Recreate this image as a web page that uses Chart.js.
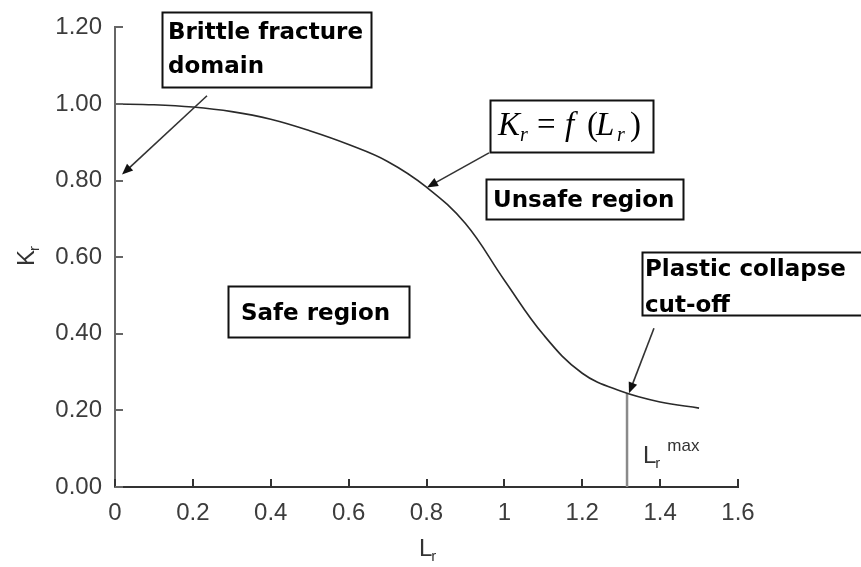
<!DOCTYPE html>
<html>
<head>
<meta charset="utf-8">
<script src="https://cdn.jsdelivr.net/npm/chart.js@4.4.1/dist/chart.umd.min.js"></script>
<style>
  html, body { margin: 0; padding: 0; background: #ffffff; }
  #wrap { width: 861px; height: 567px; }
</style>
</head>
<body>
<div id="wrap"><canvas id="c" width="861" height="567"></canvas></div>
<script>
// ---- Data ----
const LR = [0.0, 0.1, 0.2, 0.3, 0.4, 0.5, 0.6, 0.7, 0.8, 0.9, 1.0, 1.1, 1.2, 1.3, 1.4, 1.5];
const KR = [1.000, 0.998, 0.992, 0.980, 0.960, 0.930, 0.894, 0.850, 0.783, 0.688, 0.540, 0.398, 0.297, 0.250, 0.222, 0.206];
const CUTOFF_LR = [1.315, 1.315];
const CUTOFF_KR = [0.0, 0.245];
const X_TICKS = [0, 0.2, 0.4, 0.6, 0.8, 1.0, 1.2, 1.4, 1.6];
const Y_TICKS = [0, 0.2, 0.4, 0.6, 0.8, 1.0, 1.2];
const X_TITLE = ['L', 'r'];
const Y_TITLE = ['K', 'r'];
const LABEL_BRITTLE = ['Brittle fracture', 'domain'];
const LABEL_UNSAFE = ['Unsafe region'];
const LABEL_SAFE = ['Safe region'];
const LABEL_PLASTIC = ['Plastic collapse', 'cut-off'];
const LABEL_LRMAX = ['L', 'r', 'max'];

const curvePts = LR.map((v, i) => ({ x: v, y: KR[i] }));
const cutPts = CUTOFF_LR.map((v, i) => ({ x: v, y: CUTOFF_KR[i] }));

const annot = {
  id: 'annot',
  afterDraw(chart) {
    const { ctx, scales: { x, y } } = chart;
    const X = v => x.getPixelForValue(v);
    const Y = v => y.getPixelForValue(v);
    ctx.save();

    // inward tick marks
    ctx.lineWidth = 2;
    ctx.strokeStyle = '#333';
    X_TICKS.forEach(v => {
      const px = Math.round(X(v));
      ctx.beginPath(); ctx.moveTo(px, Y(0)); ctx.lineTo(px, Y(0) - 8); ctx.stroke();
    });
    ctx.strokeStyle = '#666';
    Y_TICKS.forEach(v => {
      const py = Math.round(Y(v));
      ctx.beginPath(); ctx.moveTo(X(0), py); ctx.lineTo(X(0) + 8, py); ctx.stroke();
    });

    // axis titles with subscripts
    ctx.fillStyle = '#333';
    ctx.textBaseline = 'alphabetic';
    ctx.textAlign = 'left';
    ctx.font = '24px "Liberation Sans", Arial, sans-serif';
    ctx.fillText(X_TITLE[0], 419, 556);
    let w = ctx.measureText(X_TITLE[0]).width;
    ctx.font = '15px "Liberation Sans", Arial, sans-serif';
    ctx.fillText(X_TITLE[1], 419 + w - 1, 561);

    ctx.save();
    ctx.translate(34, 266);
    ctx.rotate(-Math.PI / 2);
    ctx.font = '24px "Liberation Sans", Arial, sans-serif';
    ctx.fillText(Y_TITLE[0], 0, 0);
    w = ctx.measureText(Y_TITLE[0]).width;
    ctx.font = '15px "Liberation Sans", Arial, sans-serif';
    ctx.fillText(Y_TITLE[1], w - 1, 5);
    ctx.restore();

    // L_r^max label
    ctx.fillStyle = '#333';
    ctx.font = '24px "Liberation Sans", Arial, sans-serif';
    const lx = X(1.356), ly = Y(0.062);
    ctx.fillText(LABEL_LRMAX[0], lx, ly);
    w = ctx.measureText(LABEL_LRMAX[0]).width;
    ctx.font = '15px "Liberation Sans", Arial, sans-serif';
    ctx.fillText(LABEL_LRMAX[1], lx + w - 1, ly + 5);
    ctx.font = '17px "Liberation Sans", Arial, sans-serif';
    ctx.fillText(LABEL_LRMAX[2], lx + w + 11, ly - 12);

    // boxes
    function box(x0, y0, x1, y1) {
      const L = X(x0), T = Y(y0), R = X(x1), B = Y(y1);
      ctx.fillStyle = '#fff';
      ctx.fillRect(L, T, R - L, B - T);
      ctx.strokeStyle = '#111';
      ctx.lineWidth = 2;
      ctx.strokeRect(Math.round(L) + 0.5, Math.round(T) + 0.5, Math.round(R - L), Math.round(B - T));
    }
    function lines(arr, x0, ys) {
      ctx.fillStyle = '#000';
      ctx.font = 'bold 23px "DejaVu Sans", Verdana, sans-serif';
      ctx.textBaseline = 'alphabetic';
      arr.forEach((t, i) => ctx.fillText(t, X(x0), Y(ys[i])));
    }
    function arrow(x0, y0, x1, y1) {
      const ax = X(x0), ay = Y(y0), bx = X(x1), by = Y(y1);
      const ang = Math.atan2(by - ay, bx - ax);
      const hl = 11, hw = 4.5;
      ctx.strokeStyle = '#333';
      ctx.lineWidth = 1.6;
      ctx.beginPath();
      ctx.moveTo(ax, ay);
      ctx.lineTo(bx - Math.cos(ang) * hl * 0.8, by - Math.sin(ang) * hl * 0.8);
      ctx.stroke();
      ctx.fillStyle = '#111';
      ctx.beginPath();
      ctx.moveTo(bx, by);
      ctx.lineTo(bx - Math.cos(ang) * hl - Math.sin(ang) * hw, by - Math.sin(ang) * hl + Math.cos(ang) * hw);
      ctx.lineTo(bx - Math.cos(ang) * hl + Math.sin(ang) * hw, by - Math.sin(ang) * hl - Math.cos(ang) * hw);
      ctx.closePath();
      ctx.fill();
    }

    // Brittle fracture domain
    box(0.1207, 1.2403, 0.6574, 1.0448);
    lines(LABEL_BRITTLE, 0.1361, [1.1709, 1.0808]);
    arrow(0.2363, 1.0216, 0.018, 0.8157);

    // Formula box  K_r = f(L_r)
    box(0.963, 1.0113, 1.3816, 0.8749);
    {
      const bx = X(0.9887) - 2, by = Y(0.9187);
      ctx.fillStyle = '#000';
      const it = 'italic 33px "Liberation Serif", "Times New Roman", serif';
      const up = '33px "Liberation Serif", "Times New Roman", serif';
      const sub = 'italic 20px "Liberation Serif", "Times New Roman", serif';
      const parts = [
        ['K', it, 0, 0], ['r', sub, 22, 6], ['=', up, 39, 0], ['f', it, 67, 0],
        ['(', up, 89, 0], ['L', it, 98, 0], ['r', sub, 119, 6], [')', up, 132, 0]
      ];
      parts.forEach(p => { ctx.font = p[1]; ctx.fillText(p[0], bx + p[2], by + p[3]); });
    }
    arrow(0.9605, 0.8724, 0.8012, 0.7823);

    // Unsafe region
    box(0.9527, 0.8029, 1.4587, 0.6974);
    lines(LABEL_UNSAFE, 0.9707, [0.7308]);

    // Safe region
    box(0.2902, 0.525, 0.755, 0.3911);
    lines(LABEL_SAFE, 0.3236, [0.4349]);

    // Plastic collapse cut-off
    box(1.3534, 0.6125, 1.93, 0.4478);
    lines(LABEL_PLASTIC, 1.3611, [0.5507, 0.458]);
    arrow(1.3842, 0.4143, 1.3200, 0.2445);

    ctx.restore();
  }
};

new Chart(document.getElementById('c'), {
  type: 'scatter',
  data: {
    datasets: [
      {
        data: curvePts, showLine: true, borderColor: '#2a2a2a', borderWidth: 1.6,
        pointRadius: 0, tension: 0.4, fill: false
      },
      {
        data: cutPts, showLine: true, borderColor: '#8a8a8a', borderWidth: 2.5,
        pointRadius: 0, tension: 0, fill: false
      }
    ]
  },
  options: {
    responsive: false,
    devicePixelRatio: 1,
    animation: false,
    layout: { padding: { left: 0, top: 21, right: 123, bottom: 0 } },
    plugins: { legend: { display: false }, tooltip: { enabled: false } },
    scales: {
      x: {
        type: 'linear', min: 0, max: 1.6,
        afterBuildTicks: s => { s.ticks = X_TICKS.map(v => ({ value: v })); },
        afterFit: s => { s.height = 80; },
        grid: { display: false, drawTicks: false },
        border: { display: true, color: '#333', width: 2 },
        ticks: {
          padding: 12, color: '#3c3c3c', maxRotation: 0, autoSkip: false,
          font: { family: '"Liberation Sans", Arial, sans-serif', size: 24 },
          callback: v => String(Number(v.toFixed(1)))
        }
      },
      y: {
        type: 'linear', min: 0, max: 1.2,
        afterBuildTicks: s => { s.ticks = Y_TICKS.map(v => ({ value: v })); },
        afterFit: s => { s.width = 115; },
        grid: { display: false, drawTicks: false },
        border: { display: true, color: '#666', width: 2 },
        ticks: {
          padding: 13, color: '#3c3c3c', autoSkip: false,
          font: { family: '"Liberation Sans", Arial, sans-serif', size: 24 },
          callback: v => v.toFixed(2)
        }
      }
    }
  },
  plugins: [annot]
});
</script>
</body>
</html>
